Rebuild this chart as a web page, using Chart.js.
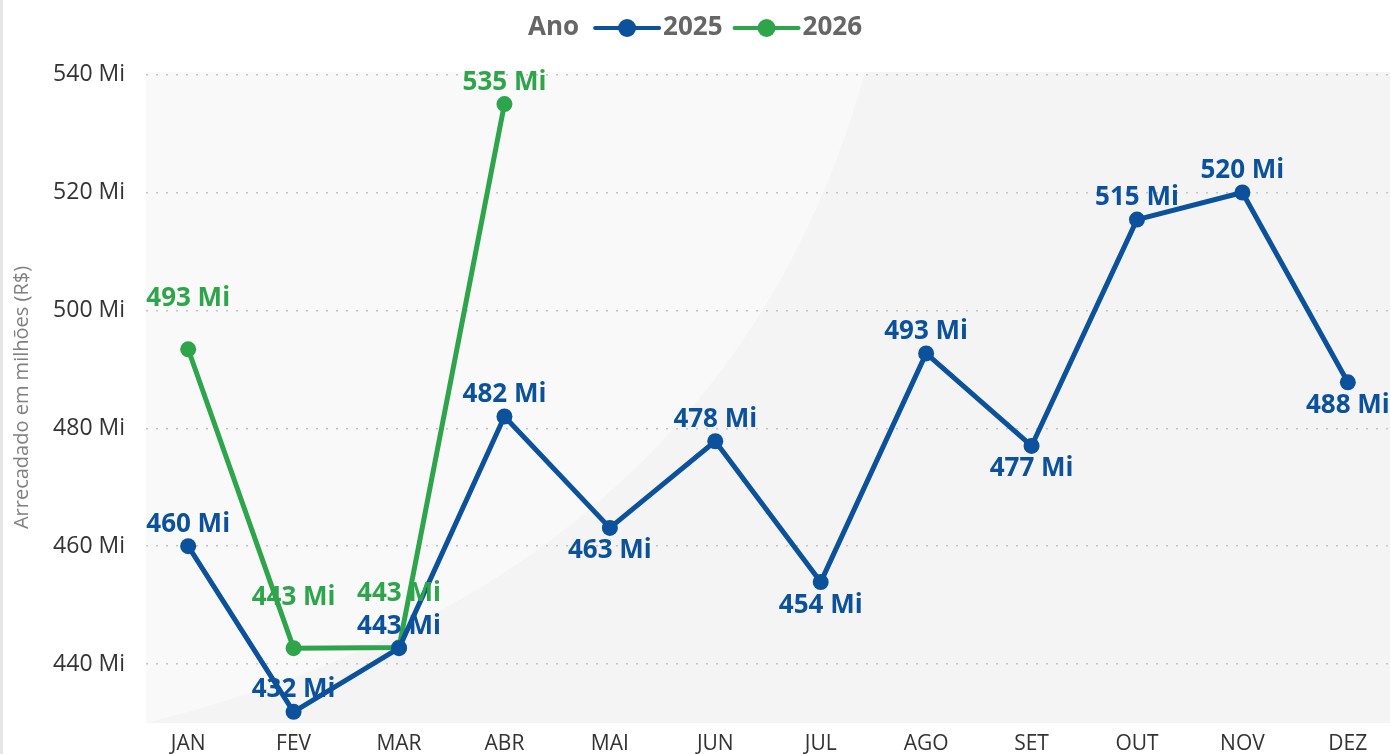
<!DOCTYPE html>
<html>
<head>
<meta charset="utf-8">
<script src="https://cdn.jsdelivr.net/npm/chart.js@4.4.1/dist/chart.umd.min.js"></script>
<style>
  html, body { margin: 0; padding: 0; background: #fff; overflow: hidden; }
  #wrap { width: 1390px; height: 754px; }
</style>
</head>
<body>
<div id="wrap"><canvas id="myChart" width="1390" height="754"></canvas></div>
<script>
const categories = ['JAN', 'FEV', 'MAR', 'ABR', 'MAI', 'JUN', 'JUL', 'AGO', 'SET', 'OUT', 'NOV', 'DEZ'];
const values2025 = [460, 431.9, 442.7, 482, 463.1, 477.8, 453.9, 492.7, 477, 515.4, 520, 487.8];
const values2026 = [493.4, 442.7, 442.8, 535];
const yTicks = [440, 460, 480, 500, 520, 540];

const BLUE = '#0b519b';
const GREEN = '#2ea44b';
const FONT = '"Open Sans", "Noto Sans", sans-serif';

// background: light grey plot area with the lighter curved sweep
const bgPlugin = {
  id: 'bg',
  beforeDraw(chart) {
    const {ctx, chartArea: a} = chart;
    ctx.save();
    ctx.fillStyle = '#fff';
    ctx.fillRect(0, 0, chart.width, chart.height);
    ctx.fillStyle = '#e6e6e6';
    ctx.fillRect(0, 0, 3, chart.height);
    ctx.fillStyle = '#f4f4f4';
    ctx.fillRect(a.left, a.top, a.right - a.left, a.bottom - a.top);
    ctx.fillStyle = '#f9f9f9';
    ctx.beginPath();
    ctx.moveTo(a.left, a.top);
    ctx.lineTo(865, a.top);
    ctx.bezierCurveTo(780, 380, 560, 620, a.left, a.bottom);
    ctx.lineTo(a.left, a.bottom);
    ctx.closePath();
    ctx.fill();
    ctx.restore();
  }
};

// value labels above/below each point
const labelPlugin = {
  id: 'valueLabels',
  afterDatasetsDraw(chart) {
    const ctx = chart.ctx;
    ctx.save();
    ctx.font = 'bold 26px ' + FONT;
    ctx.textAlign = 'center';
    ctx.textBaseline = 'middle';
    chart.data.datasets.forEach((ds, i) => {
      const meta = chart.getDatasetMeta(i);
      meta.data.forEach((pt, j) => {
        ctx.fillStyle = ds.borderColor;
        ctx.fillText(Math.round(ds.data[j].y) + ' Mi', pt.x, pt.y + ds.labelOffsets[j]);
      });
    });
    ctx.restore();
  }
};

// inline legend "Ano  —●— 2025  —●— 2026"
const legendPlugin = {
  id: 'inlineLegend',
  afterDraw(chart) {
    const ctx = chart.ctx;
    ctx.save();
    ctx.font = 'bold 26px ' + FONT;
    ctx.textBaseline = 'middle';
    const y = 28;
    const lineW = 64, gapA = 16, gapB = 4, gapC = 12;
    const items = chart.data.datasets;
    let total = ctx.measureText('Ano').width + gapA;
    items.forEach((ds, i) => {
      total += lineW + gapB + ctx.measureText(ds.label).width;
      if (i < items.length - 1) total += gapC;
    });
    let x = chart.width / 2 - total / 2;
    ctx.fillStyle = '#666';
    ctx.fillText('Ano', x, y);
    x += ctx.measureText('Ano').width + gapA;
    items.forEach((ds) => {
      ctx.strokeStyle = ds.borderColor;
      ctx.lineWidth = 4;
      ctx.lineCap = 'round';
      ctx.beginPath();
      ctx.moveTo(x, y);
      ctx.lineTo(x + lineW, y);
      ctx.stroke();
      ctx.fillStyle = ds.borderColor;
      ctx.beginPath();
      ctx.arc(x + lineW / 2, y, 9, 0, Math.PI * 2);
      ctx.fill();
      x += lineW + gapB;
      ctx.fillStyle = '#666';
      ctx.fillText(ds.label, x, y);
      x += ctx.measureText(ds.label).width + gapC;
    });
    ctx.restore();
  }
};

const lineStyle = {
  borderWidth: 5,
  pointRadius: 8,
  pointHoverRadius: 8,
  pointBorderWidth: 0,
  tension: 0,
  borderJoinStyle: 'round',
  borderCapStyle: 'round',
  clip: false
};

const data = {
  datasets: [
    Object.assign({
      label: '2025',
      data: values2025.map((v, i) => ({x: i, y: v})),
      borderColor: BLUE,
      backgroundColor: BLUE,
      pointBackgroundColor: BLUE,
      labelOffsets: [-22, -22, -22, -22, 23, -22, 23, -22, 23, -22, -22, 23]
    }, lineStyle),
    Object.assign({
      label: '2026',
      data: values2026.map((v, i) => ({x: i, y: v})),
      borderColor: GREEN,
      backgroundColor: GREEN,
      pointBackgroundColor: GREEN,
      labelOffsets: [-51, -51, -54, -21]
    }, lineStyle)
  ]
};

const config = {
  type: 'line',
  data: data,
  plugins: [bgPlugin, labelPlugin, legendPlugin],
  options: {
    responsive: false,
    animation: false,
    layout: { autoPadding: false, padding: { top: 72, right: 0, left: 0, bottom: 0 } },
    plugins: {
      legend: { display: false },
      tooltip: { enabled: false }
    },
    scales: {
      x: {
        type: 'linear',
        min: -0.4,
        max: 11.4,
        grid: { display: false, drawTicks: false },
        border: { display: false },
        afterBuildTicks: (scale) => { scale.ticks = categories.map((c, i) => ({value: i})); },
        afterFit: (scale) => {
          scale.height = 31;
          scale.paddingLeft = 0;
          scale.paddingRight = 0;
        },
        ticks: {
          padding: 0,
          autoSkip: false,
          maxRotation: 0,
          color: '#333',
          font: { family: FONT, size: 21, lineHeight: 2 },
          callback: (v) => categories[v]
        }
      },
      y: {
        min: 430,
        max: 540.44,
        afterBuildTicks: (scale) => { scale.ticks = yTicks.map(v => ({value: v})); },
        afterFit: (scale) => { scale.width = 146; },
        grid: {
          drawTicks: false,
          color: '#c4c4c4',
          lineWidth: 1.5
        },
        border: { display: false, dash: [2, 8] },
        ticks: {
          padding: 21,
          color: '#333',
          font: { family: FONT, size: 23, lineHeight: 0.4 },
          callback: (v) => v + ' Mi'
        },
        title: {
          display: true,
          text: 'Arrecadado em milhões (R$)',
          color: '#808080',
          font: { family: FONT, size: 20 },
          padding: { top: 10, bottom: 0 }
        }
      }
    }
  }
};

const myChart = new Chart(document.getElementById('myChart'), config);
</script>
</body>
</html>
